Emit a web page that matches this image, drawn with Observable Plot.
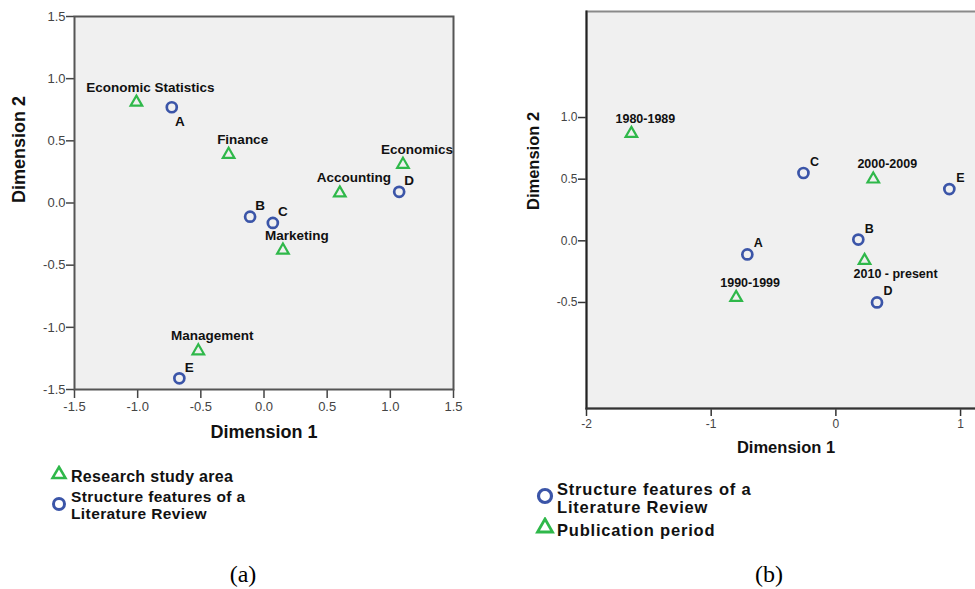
<!DOCTYPE html>
<html><head><meta charset="utf-8">
<script src="https://cdn.jsdelivr.net/npm/d3@7"></script>
<script src="https://cdn.jsdelivr.net/npm/@observablehq/plot@0.6"></script>
<style>
html,body{margin:0;padding:0;background:#fff;width:975px;height:589px;overflow:hidden;font-family:"Liberation Sans",Arial,sans-serif;}
.abs{position:absolute;}
.leg{position:absolute;font-weight:bold;color:#111;white-space:nowrap;}
.cap{position:absolute;font-family:"Liberation Serif","Times New Roman",serif;font-size:24px;color:#000;transform:translate(-50%,-50%);}
</style></head><body>
<div id="pa" class="abs" style="left:0;top:0;"></div>
<div id="pb" class="abs" style="left:500px;top:0;width:475px;height:480px;overflow:hidden;"></div>

<!-- legend (a) -->
<svg class="abs" style="left:50px;top:465px" width="18" height="16"><polygon points="9,2 15.5,13 2.5,13" fill="none" stroke="#2fb84a" stroke-width="2.5"/></svg>
<div class="leg" style="left:71px;top:467px;font-size:16px;line-height:19px;letter-spacing:0.3px;">Research study area</div>
<svg class="abs" style="left:51px;top:496px" width="16" height="16"><circle cx="8" cy="8" r="5.5" fill="none" stroke="#3b55a8" stroke-width="3"/></svg>
<div class="leg" style="left:71px;top:489px;font-size:15.5px;line-height:16.5px;letter-spacing:0.4px;">Structure features of a<br>Literature Review</div>

<!-- legend (b) -->
<svg class="abs" style="left:536px;top:487px" width="18" height="18"><circle cx="9" cy="9" r="6.5" fill="none" stroke="#3b55a8" stroke-width="3.2"/></svg>
<div class="leg" style="left:557px;top:480px;font-size:16.5px;line-height:18px;letter-spacing:0.8px;">Structure features of a<br>Literature Review</div>
<svg class="abs" style="left:535px;top:517px" width="20" height="18"><polygon points="10,2 17.5,15 2.5,15" fill="none" stroke="#2fb84a" stroke-width="2.8"/></svg>
<div class="leg" style="left:557px;top:520px;font-size:16.5px;line-height:20px;letter-spacing:0.8px;">Publication period</div>

<div class="cap" style="left:243px;top:574px;">(a)</div>
<div class="cap" style="left:769px;top:574px;">(b)</div>

<script>
// ---- Panel (a) data ----
const areaLabels = ["Economic Statistics", "Finance", "Economics", "Accounting", "Marketing", "Management"];
const areaX = [-1.01, -0.28, 1.10, 0.60, 0.15, -0.52];
const areaY = [0.81, 0.39, 0.31, 0.08, -0.38, -1.19];
const featureLabels = ["A", "B", "C", "D", "E"];
const featureAX = [-0.73, -0.11, 0.07, 1.07, -0.67];
const featureAY = [0.77, -0.11, -0.16, 0.09, -1.41];
const ticksA = [-1.5, -1.0, -0.5, 0.0, 0.5, 1.0, 1.5];

// ---- Panel (b) data ----
const periodLabels = ["1980-1989", "1990-1999", "2000-2009", "2010 - present"];
const periodX = [-1.64, -0.80, 0.30, 0.23];
const periodY = [0.87, -0.46, 0.50, -0.16];
const featureBX = [-0.71, 0.18, -0.26, 0.33, 0.91];
const featureBY = [-0.11, 0.01, 0.55, -0.50, 0.42];
const ticksBX = [-2, -1, 0, 1];
const ticksBY = [-0.5, 0.0, 0.5, 1.0];

const GREEN = "#2fb84a", BLUE = "#3b55a8";
const FONT = "Liberation Sans, Arial, sans-serif";
const zip = (labels, xs, ys) => labels.map((label, i) => ({label, x: xs[i], y: ys[i]}));
const areaData = zip(areaLabels, areaX, areaY);
const featA = zip(featureLabels, featureAX, featureAY);
const periodData = zip(periodLabels, periodX, periodY);
const featB = zip(featureLabels, featureBX, featureBY);
const belowA = new Set(["A"]);
const belowB = new Set(["2010 - present"]);
const fmt1 = d => d.toFixed(1);
const lbl = {x: "x", y: "y", text: "label", fontWeight: "bold", fill: "#111"};

const pa = Plot.plot({
  width: 480, height: 450,
  marginLeft: 74, marginRight: 27, marginTop: 16, marginBottom: 61,
  style: {fontFamily: FONT, background: "transparent", overflow: "visible", maxWidth: "none"},
  x: {domain: [-1.5, 1.5]},
  y: {domain: [-1.5, 1.5]},
  marks: [
    Plot.frame({fill: "#f0f0f0", stroke: null}),
    Plot.axisX({ticks: ticksA, tickFormat: fmt1, tickSize: 9, tickPadding: 3, fontSize: 13, stroke: "#444", strokeWidth: 1.5, fill: "#444", label: null}),
    Plot.axisY({ticks: ticksA, tickFormat: fmt1, tickSize: 8, tickPadding: 1, fontSize: 13, stroke: "#444", strokeWidth: 1.5, fill: "#444", label: null}),
    Plot.frame({stroke: "#555", strokeWidth: 2}),
    Plot.dot(areaData, {x: "x", y: "y", symbol: "triangle", r: 4.3, stroke: GREEN, strokeWidth: 2.2}),
    Plot.dot(featA, {x: "x", y: "y", symbol: "circle", r: 5, stroke: BLUE, strokeWidth: 2.7}),
    Plot.text(areaData, {...lbl, dx: 14, dy: -15, fontSize: 13.5, letterSpacing: "0.3px"}),
    Plot.text(featA.filter(d => !belowA.has(d.label)), {...lbl, dx: 10, dy: -11, fontSize: 13.5}),
    Plot.text(featA.filter(d => belowA.has(d.label)), {...lbl, dx: 8, dy: 14, fontSize: 13.5}),
    Plot.text(["Dimension 1"], {frameAnchor: "bottom", dy: 48, fontSize: 18, fontWeight: "bold", fill: "#111"}),
    Plot.text(["Dimension 2"], {frameAnchor: "left", dx: -55, rotate: -90, fontSize: 18, fontWeight: "bold", fill: "#111"})
  ]
});
document.getElementById("pa").append(pa);

const pb = Plot.plot({
  width: 495, height: 470,
  marginLeft: 86, marginRight: 10, marginTop: 11, marginBottom: 62,
  style: {fontFamily: FONT, background: "transparent", overflow: "visible", maxWidth: "none"},
  x: {domain: [-2, 1.2]},
  y: {domain: [-1.36, 1.86]},
  marks: [
    Plot.frame({fill: "#f0f0f0", stroke: null}),
    Plot.axisX({ticks: ticksBX, tickFormat: d => String(d), tickSize: 8, tickPadding: 3, fontSize: 12, stroke: "#333", strokeWidth: 1.5, fill: "#444", label: null}),
    Plot.axisY({ticks: ticksBY, tickFormat: fmt1, tickSize: 8, tickPadding: 1, fontSize: 12, stroke: "#333", strokeWidth: 1.5, fill: "#444", label: null}),
    Plot.frame({stroke: "#8a8a8a", strokeWidth: 2}),
    Plot.frame({anchor: "left", stroke: "#222", strokeWidth: 2}),
    Plot.frame({anchor: "bottom", stroke: "#333", strokeWidth: 2}),
    Plot.dot(periodData, {x: "x", y: "y", symbol: "triangle", r: 4.3, stroke: GREEN, strokeWidth: 2.2}),
    Plot.dot(featB, {x: "x", y: "y", symbol: "circle", r: 5, stroke: BLUE, strokeWidth: 2.7}),
    Plot.text(periodData.filter(d => !belowB.has(d.label)), {...lbl, dx: 14, dy: -15, fontSize: 12.5}),
    Plot.text(periodData.filter(d => belowB.has(d.label)), {...lbl, dx: 31, dy: 13, fontSize: 12.5}),
    Plot.text(featB, {...lbl, dx: 11, dy: -11, fontSize: 12.5}),
    Plot.text(["Dimension 1"], {frameAnchor: "bottom", dy: 44, fontSize: 16.5, fontWeight: "bold", fill: "#111"}),
    Plot.text(["Dimension 2"], {frameAnchor: "left", dx: -53, rotate: -90, fontSize: 16.5, fontWeight: "bold", fill: "#111"})
  ]
});
document.getElementById("pb").append(pb);
</script>
</body></html>
